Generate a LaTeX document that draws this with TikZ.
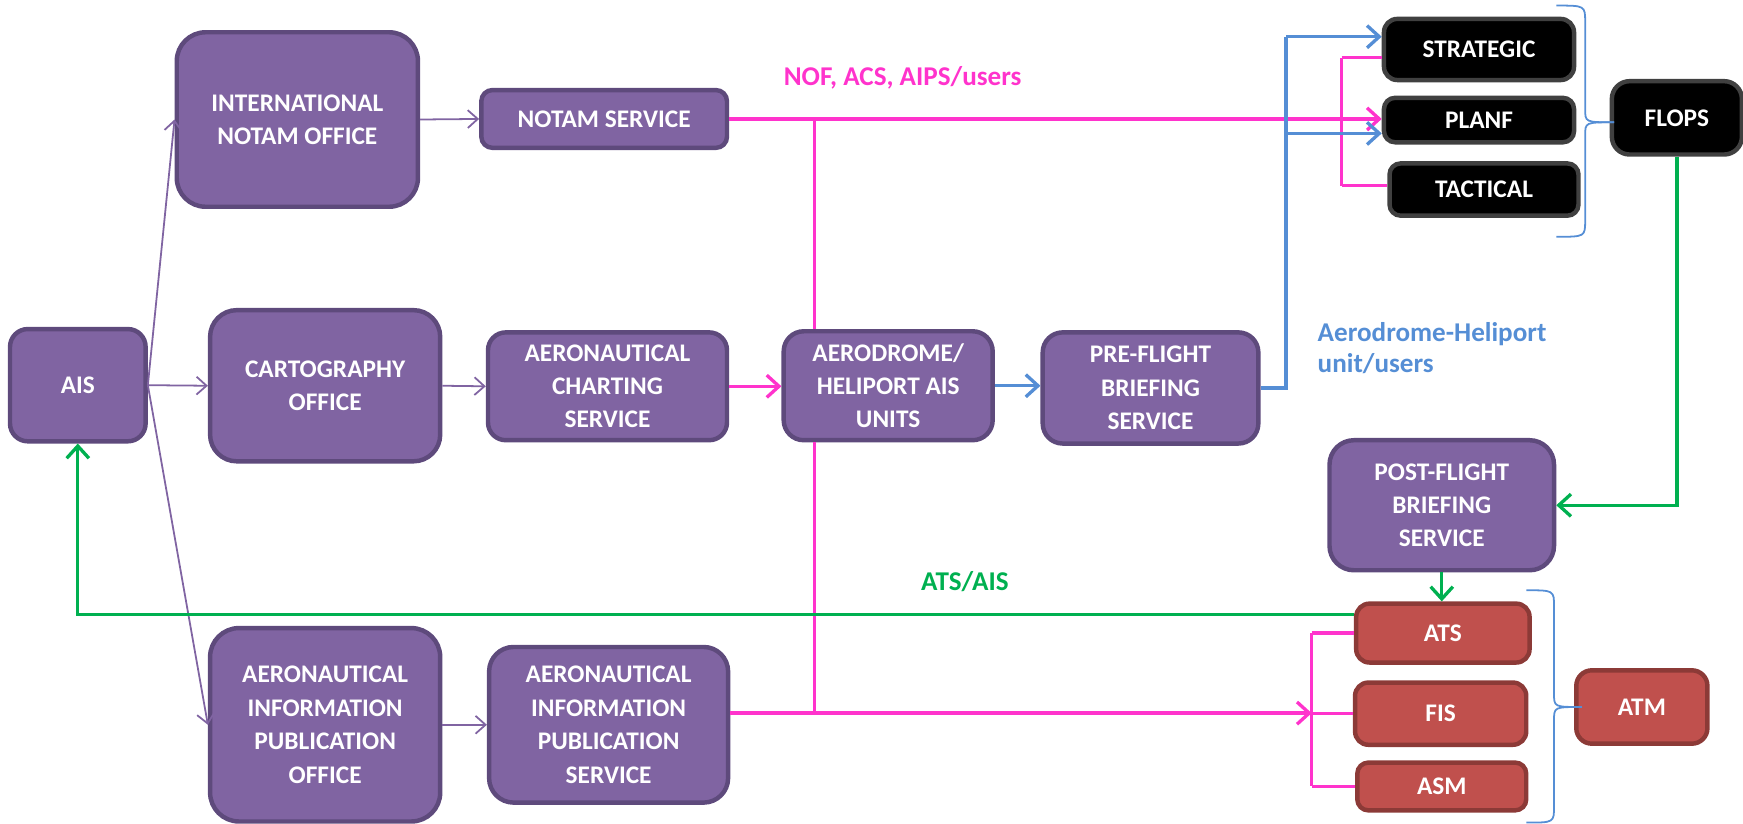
\documentclass[tikz,border=0pt]{standalone}
\usepackage{fontspec}
\setmainfont{Carlito}
\usetikzlibrary{arrows.meta,calc}
\definecolor{pfill}{HTML}{8064A2}
\definecolor{pdraw}{HTML}{5E4A7C}
\definecolor{rfill}{HTML}{C0504D}
\definecolor{rdraw}{HTML}{8C3A37}
\definecolor{magc}{HTML}{FF33CC}
\definecolor{bluc}{HTML}{558ED5}
\definecolor{grec}{HTML}{00B050}
\definecolor{thinp}{HTML}{8064A2}
\begin{document}
\begin{tikzpicture}[x=0.5pt,y=-0.5pt,
  box/.style={rounded corners=6pt, line width=2pt, text=white,
    font=\bfseries\fontsize{11.4}{15}\selectfont, align=center, inner sep=0pt},
  pbox/.style={box, fill=pfill, draw=pdraw},
  rbox/.style={box, fill=rfill, draw=rdraw},
  kbox/.style={box, fill=black, draw=black!75},
  sz/.style 2 args={minimum width=#1*0.5pt, minimum height=#2*0.5pt},
  parr/.style={draw=thinp, line width=0.8pt, -{Straight Barb[length=4.5pt,width=8pt]}},
  mline/.style={draw=magc, line width=1.5pt},
  marr/.style={mline, -{Straight Barb[length=5.5pt,width=10pt]}},
  bline/.style={draw=bluc, line width=1.5pt},
  barr/.style={bline, -{Straight Barb[length=5.5pt,width=10pt]}},
  garr/.style={draw=grec, line width=1.5pt, -{Straight Barb[length=5.5pt,width=10pt]}},
  bracestyle/.style={draw=bluc, line width=0.8pt},
  lbl/.style={font=\bfseries\fontsize{12.2}{14}\selectfont, inner sep=0pt}
]
\useasboundingbox (0,0) rectangle (1568,741);

% purple boxes
\node[pbox, sz={122}{101}, rounded corners=8pt] (ais) at (70,346.5) {AIS};
\node[pbox, sz={217}{157}, rounded corners=13pt] (ino) at (267.5,107.5) {INTERNATIONAL\\NOTAM OFFICE};
\node[pbox, sz={221}{52}, rounded corners=5pt] (ns) at (543.5,107) {NOTAM SERVICE};
\node[pbox, sz={207}{136}, rounded corners=12pt] (carto) at (292.5,347) {CARTOGRAPHY\\OFFICE};
\node[pbox, sz={215}{97}, rounded corners=8pt] (acs) at (546.5,347.5) {AERONAUTICAL\\CHARTING\\SERVICE};
\node[pbox, sz={188}{98}, rounded corners=9pt] (ahau) at (799,347) {AERODROME/\\HELIPORT AIS\\UNITS};
\node[pbox, sz={194}{100}, rounded corners=9pt] (pfbs) at (1035,349) {PRE-FLIGHT\\BRIEFING\\SERVICE};
\node[pbox, sz={207}{174}, rounded corners=13pt] (aipo) at (292.5,652) {AERONAUTICAL\\INFORMATION\\PUBLICATION\\OFFICE};
\node[pbox, sz={215}{140}, rounded corners=11pt] (aips) at (547.5,652) {AERONAUTICAL\\INFORMATION\\PUBLICATION\\SERVICE};
\node[pbox, sz={202}{117}, rounded corners=11pt] (post) at (1297,454.5) {POST-FLIGHT\\BRIEFING\\SERVICE};

% black boxes
\node[kbox, sz={171}{55}, rounded corners=6pt] (strat) at (1330.5,44.5) {STRATEGIC};
\node[kbox, sz={171}{40}, rounded corners=5pt] (planf) at (1330.5,108) {PLANF};
\node[kbox, sz={170}{47}, rounded corners=5pt] (tact) at (1335,170.5) {TACTICAL};
\node[kbox, sz={117}{66}, rounded corners=8pt] (flops) at (1508.5,106) {FLOPS};

% red boxes
\node[rbox, sz={156}{53}, rounded corners=6pt] (ats) at (1298,569.5) {ATS};
\node[rbox, sz={154}{56}, rounded corners=6pt] (fis) at (1296,642) {FIS};
\node[rbox, sz={152}{43}, rounded corners=5pt] (asm) at (1297,707.5) {ASM};
\node[rbox, sz={118}{66}, rounded corners=7pt] (atm) at (1477,636) {ATM};

% thin purple connectors
\draw[parr] (ais.east) -- (ino.west);
\draw[parr] (ais.east) -- (carto.west);
\draw[parr] (ais.east) -- (aipo.west);
\draw[parr] (ino.east) -- (ns.west);
\draw[parr] (carto.east) -- (acs.west);
\draw[parr] (aipo.east) -- (aips.west);

% magenta
\coordinate (mj1) at (733,107);
\coordinate (mj2) at (733,641.5);
\coordinate (mb1) at (1180,641.5);
\coordinate (tb1) at (1207,52);
\coordinate (tb2) at (1207,167);
\draw[marr] (acs.east) -- (acs.east -| ahau.west);
\draw[mline] (mj1) -- (mj1 |- ahau.north);
\draw[mline] (mj1 |- ahau.south) -- (mj2);
\draw[marr] (ns.east) -- (ns.east -| planf.west);
\draw[marr] (aips.east |- mj2) -- (mb1);
\draw[mline] (mb1 |- ats.west) -- (mb1 |- asm.west);
\draw[mline] (mb1 |- ats.west) -- (ats.west);
\draw[mline] (mb1 |- fis.west) -- (fis.west);
\draw[mline] (mb1 |- asm.west) -- (asm.west);
\draw[mline] (tb1) -- (tb2);
\draw[mline] (tb1) -- (tb1 -| strat.west);
\draw[mline] (tb2) -- (tb2 -| tact.west);

% blue
\coordinate (bv) at (1157,349);
\coordinate (bt) at (1157,33);
\coordinate (bm) at (1157,120);
\draw[barr] (ahau.east) -- (ahau.east -| pfbs.west);
\draw[bline] (pfbs.east) -- (bv) -- (bt);
\draw[barr] (bt) -- (bt -| strat.west);
\draw[barr] (bm) -- (bm -| planf.west);

% green
\draw[garr] (flops.south) |- (post.east);
\draw[garr] (post.south) -- (post.south |- ats.north);
\draw[garr] (ats.west |- 0,553) -| (ais.south);

% braces
\draw[bracestyle] (1400,5) .. controls (1426,5) .. (1426,20) -- (1426,98)
  .. controls (1426,110) .. (1452,110);
\draw[bracestyle] (1452,110) .. controls (1426,110) .. (1426,122) -- (1426,198)
  .. controls (1426,213) .. (1400,213);
\draw[bracestyle] (1373,531) .. controls (1398,531) .. (1398,546) -- (1398,624)
  .. controls (1398,636) .. (1423,636);
\draw[bracestyle] (1423,636) .. controls (1398,636) .. (1398,648) -- (1398,725)
  .. controls (1398,740) .. (1373,740);

% labels
\node[lbl, text=magc] (lab1) at (812,70) {NOF, ACS, AIPS/users};
\node[lbl, text=bluc, anchor=west, align=left] (lab2) at (1185,313) {Aerodrome-Heliport\\unit/users};
\node[lbl, text=grec] (lab3) at (868,523) {ATS/AIS};
\end{tikzpicture}
\end{document}
